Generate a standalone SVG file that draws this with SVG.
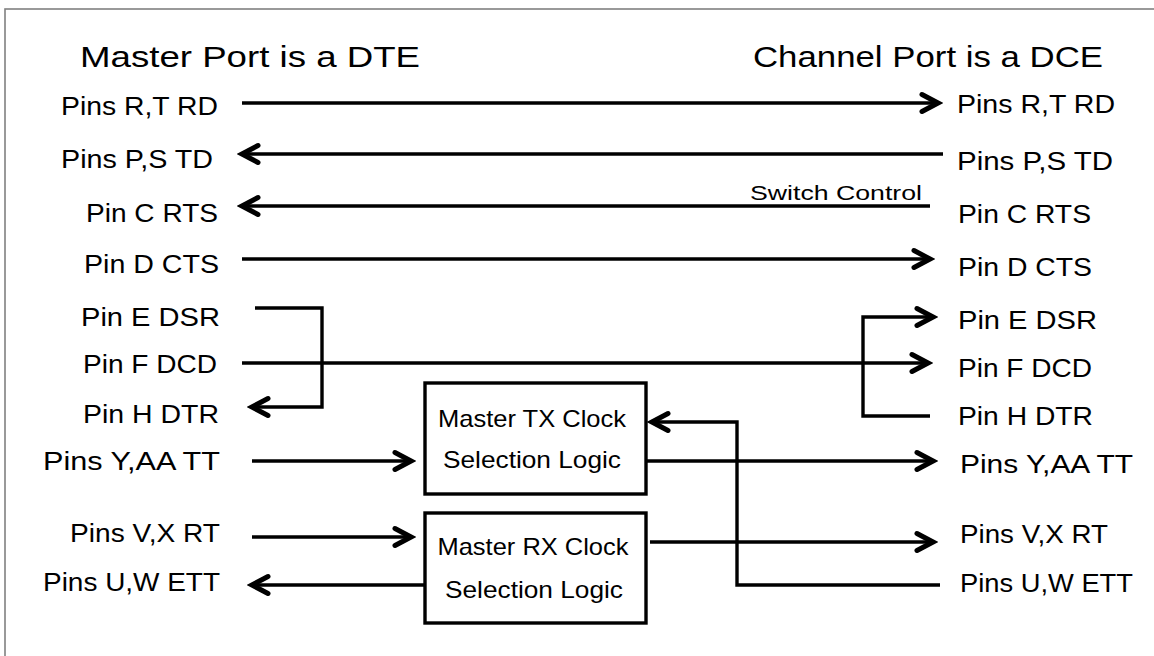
<svg xmlns="http://www.w3.org/2000/svg" width="1154" height="656" viewBox="0 0 1154 656">
<style>
text{font-family:"Liberation Sans",Arial,sans-serif;fill:#000}
.t{font-size:30px}
.l{font-size:25px;text-anchor:end}
.r{font-size:25px}
.b{font-size:24px;text-anchor:middle}
.s{font-size:21px}
.w{fill:none;stroke:#000;stroke-width:3.4}
.box{fill:#fff;stroke:#000;stroke-width:3.4}
</style>
<defs>
<marker id="arr" markerUnits="userSpaceOnUse" markerWidth="28" markerHeight="28" viewBox="-23 -14 28 28" refX="0" refY="0" orient="auto">
<path d="M-16,-8.5 L0,0 L-16,8.5" fill="none" stroke="#000" stroke-width="5" stroke-linecap="round" stroke-linejoin="miter"/>
</marker>
</defs>
<rect x="5" y="9" width="1170" height="680" fill="#fff" stroke="#808080" stroke-width="1.6"/>
<g id="titles">
<text class="t" x="80" y="67" textLength="340" lengthAdjust="spacingAndGlyphs">Master Port is a DTE</text>
<text class="t" x="753" y="67" textLength="350" lengthAdjust="spacingAndGlyphs">Channel Port is a DCE</text>
</g>
<g id="left-pins">
<text class="l" x="218" y="115" textLength="157" lengthAdjust="spacingAndGlyphs">Pins R,T RD</text>
<text class="l" x="213" y="168" textLength="152" lengthAdjust="spacingAndGlyphs">Pins P,S TD</text>
<text class="l" x="218" y="222" textLength="132" lengthAdjust="spacingAndGlyphs">Pin C RTS</text>
<text class="l" x="219" y="273" textLength="135" lengthAdjust="spacingAndGlyphs">Pin D CTS</text>
<text class="l" x="220" y="326" textLength="139" lengthAdjust="spacingAndGlyphs">Pin E DSR</text>
<text class="l" x="217" y="373" textLength="134" lengthAdjust="spacingAndGlyphs">Pin F DCD</text>
<text class="l" x="219" y="423" textLength="136" lengthAdjust="spacingAndGlyphs">Pin H DTR</text>
<text class="l" x="220" y="470" textLength="177" lengthAdjust="spacingAndGlyphs">Pins Y,AA TT</text>
<text class="l" x="220" y="542" textLength="150" lengthAdjust="spacingAndGlyphs">Pins V,X RT</text>
<text class="l" x="220" y="591" textLength="177" lengthAdjust="spacingAndGlyphs">Pins U,W ETT</text>
</g>
<g id="right-pins">
<text class="r" x="957" y="113" textLength="158" lengthAdjust="spacingAndGlyphs">Pins R,T RD</text>
<text class="r" x="957" y="170" textLength="156" lengthAdjust="spacingAndGlyphs">Pins P,S TD</text>
<text class="r" x="958" y="223" textLength="133" lengthAdjust="spacingAndGlyphs">Pin C RTS</text>
<text class="r" x="958" y="276" textLength="134" lengthAdjust="spacingAndGlyphs">Pin D CTS</text>
<text class="r" x="958" y="329" textLength="139" lengthAdjust="spacingAndGlyphs">Pin E DSR</text>
<text class="r" x="958" y="377" textLength="134" lengthAdjust="spacingAndGlyphs">Pin F DCD</text>
<text class="r" x="958" y="425" textLength="135" lengthAdjust="spacingAndGlyphs">Pin H DTR</text>
<text class="r" x="960" y="473" textLength="173" lengthAdjust="spacingAndGlyphs">Pins Y,AA TT</text>
<text class="r" x="960" y="543" textLength="148" lengthAdjust="spacingAndGlyphs">Pins V,X RT</text>
<text class="r" x="960" y="592" textLength="173" lengthAdjust="spacingAndGlyphs">Pins U,W ETT</text>
</g>
<g id="tx-clock">
<rect class="box" x="425" y="383" width="221" height="111"/>
<text class="b" x="532" y="427" textLength="188" lengthAdjust="spacingAndGlyphs">Master TX Clock</text>
<text class="b" x="532" y="468" textLength="178" lengthAdjust="spacingAndGlyphs">Selection Logic</text>
</g>
<g id="rx-clock">
<rect class="box" x="425" y="513" width="221" height="110"/>
<text class="b" x="533" y="555" textLength="191" lengthAdjust="spacingAndGlyphs">Master RX Clock</text>
<text class="b" x="534" y="598" textLength="178" lengthAdjust="spacingAndGlyphs">Selection Logic</text>
</g>
<g id="connectors">
<path class="w" d="M242,103 H938" marker-end="url(#arr)"/>
<path class="w" d="M943,154 H242" marker-end="url(#arr)"/>
<path class="w" d="M930,206 H242" marker-end="url(#arr)"/>
<text class="s" x="750" y="200" textLength="172" lengthAdjust="spacingAndGlyphs">Switch Control</text>
<path class="w" d="M242,259 H930" marker-end="url(#arr)"/>
<path class="w" d="M255,308 H322 V407 H252" marker-end="url(#arr)"/>
<path class="w" d="M242,363 H928" marker-end="url(#arr)"/>
<path class="w" d="M930,416 H863 V317 H933" marker-end="url(#arr)"/>
<path class="w" d="M252,461 H411" marker-end="url(#arr)"/>
<path class="w" d="M646,461 H933" marker-end="url(#arr)"/>
<path class="w" d="M940,585 H737 V422 H652" marker-end="url(#arr)"/>
<path class="w" d="M252,537 H411" marker-end="url(#arr)"/>
<path class="w" d="M650,542 H933" marker-end="url(#arr)"/>
<path class="w" d="M425,585 H252" marker-end="url(#arr)"/>
</g>
</svg>
